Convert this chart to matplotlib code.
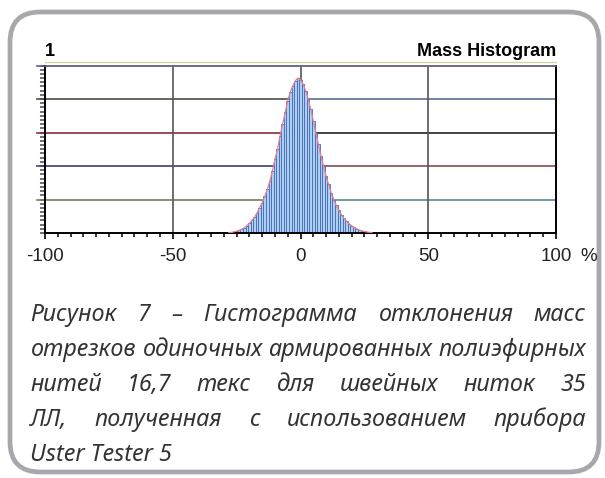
import numpy as np
import matplotlib
matplotlib.use("Agg")
import matplotlib.pyplot as plt
from matplotlib.patches import FancyBboxPatch
from matplotlib.font_manager import FontProperties
from matplotlib.ticker import MultipleLocator

# histogram of mass deviation, % (bin centres) and relative height
bins = [-28, -27, -26, -25, -24, -23, -22, -21, -20, -19, -18, -17, -16,
        -15, -14, -13, -12, -11, -10, -9, -8, -7, -6, -5, -4, -3, -2, -1,
        0, 1, 2, 3, 4, 5, 6, 7, 8, 9, 10, 11, 12, 13, 14, 15, 16, 17, 18,
        19, 20, 21, 22, 23, 24, 25, 26, 27, 28]
heights = [0.002, 0.004, 0.007, 0.011, 0.016, 0.023, 0.032, 0.044, 0.058,
           0.075, 0.095, 0.12, 0.15, 0.18, 0.22, 0.26, 0.31, 0.37, 0.44,
           0.50, 0.58, 0.65, 0.72, 0.79, 0.84, 0.88, 0.91, 0.925, 0.915,
           0.89, 0.85, 0.80, 0.74, 0.67, 0.60, 0.53, 0.46, 0.40, 0.34, 0.29,
           0.24, 0.20, 0.165, 0.135, 0.11, 0.088, 0.07, 0.055, 0.043, 0.033,
           0.025, 0.018, 0.013, 0.009, 0.006, 0.004, 0.002]

x_ticks = [-100, -50, 0, 50, 100]
x_labels = ["-100", "-50", "0", "50", "100"]
grid_y = [0.2, 0.4, 0.6, 0.8, 1.0]
# scanned grid lines have different tints left and right of the peak
grid_left_colors = ["#7c7a62", "#3e3e7c", "#8c2c3c", "#4e4e44", "#6a5a92"]
grid_right_colors = ["#5c8a8a", "#8c4a52", "#222222", "#5a7090", "#a06050"]

caption_lines = [
    "Рисунок 7 – Гистограмма отклонения масс",
    "отрезков одиночных армированных полиэфирных",
    "нитей 16,7 текс для швейных ниток 35",
    "ЛЛ, полученная с использованием прибора",
    "Uster Tester 5",
]

W, H = 605, 478
fig = plt.figure(figsize=(W / 100, H / 100), dpi=100)
fig.patch.set_facecolor("white")


def fx(px):
    return px / W


def fy(py):
    return 1 - py / H


# rounded frame around figure
frame = FancyBboxPatch((fx(10), fy(472)), fx(589), (472 - 12) / H,
                       boxstyle="round,pad=0,rounding_size=0.05",
                       transform=fig.transFigure, fill=False,
                       edgecolor="#a6a8ab", linewidth=3.4,
                       mutation_aspect=W / H)
fig.patches.append(frame)

# chart area
ax_l, ax_r, ax_t, ax_b = 45, 556, 65.5, 233
ax = fig.add_axes([fx(ax_l), fy(ax_b), fx(ax_r - ax_l), (ax_b - ax_t) / H])
ax.set_xlim(-100, 100)
ax.set_ylim(0, 1)

for yv, cl, cr in zip(grid_y, grid_left_colors, grid_right_colors):
    ax.plot([-100, 0], [yv, yv], color=cl, lw=1.2, zorder=1, clip_on=False)
    ax.plot([0, 100], [yv, yv], color=cr, lw=1.2, zorder=1, clip_on=False)
    # major tick sticking out on the left
    ax.plot([-103.2, -100], [yv, yv], color=cl, lw=1.2, clip_on=False)
ax.plot([-100, 100], [1.022, 1.022], color="#d9d3a8", lw=1.0, clip_on=False)

for xv in [-50, 0, 50]:
    ax.axvline(xv, color="#555555", lw=1.2, zorder=1)

ax.bar(bins, heights, width=1.0, color="#a9d3f0", edgecolor="#4a64b8",
       linewidth=0.6, zorder=2)
ax.plot(bins, heights, color="#e8808e", lw=0.9, zorder=3)

for s in ["left", "bottom", "right"]:
    ax.spines[s].set_linewidth(1.4)
    ax.spines[s].set_color("black")
ax.spines["top"].set_linewidth(1.1)
ax.spines["top"].set_color("#6a6a8a")

ax.set_xticks(x_ticks)
ax.set_xticklabels(x_labels)
ax.xaxis.set_minor_locator(MultipleLocator(5))
ax.tick_params(axis="x", which="major", direction="out", length=4, width=1.2,
               pad=7, labelsize=13.5, labelcolor="#222222")
ax.tick_params(axis="x", which="minor", direction="out", length=3, width=1.1)
for lab in ax.get_xticklabels():
    lab.set_fontfamily("Liberation Sans")

ax.set_yticks([])
ax.yaxis.set_minor_locator(MultipleLocator(0.025))
ax.tick_params(axis="y", which="minor", direction="out", length=3.6,
               width=1.1, color="#4a4a5a", labelleft=False)

ax.text(0.0, 1.035, "1", transform=ax.transAxes, ha="left", va="bottom",
        fontsize=13, fontweight="bold", family="Liberation Sans")
ax.text(1.0, 1.035, "Mass Histogram", transform=ax.transAxes, ha="right",
        va="bottom", fontsize=13, fontweight="bold", family="Liberation Sans")

fig.canvas.draw()
rend = fig.canvas.get_renderer()

# unit sits on the same line as the "100" tick label
bb = ax.get_xticklabels()[-1].get_window_extent(rend)
fig.text(fx(580), bb.y0 / H, "%", ha="left", va="bottom", fontsize=13.5,
         family="Liberation Sans", color="#222222")

# justified caption
fam = "Noto Sans"
fp = FontProperties(family=fam, style="italic", size=10)


def text_w(s, prop):
    t = fig.text(0, 0, s, fontproperties=prop)
    w = t.get_window_extent(rend).width
    t.remove()
    return w


txt_l, txt_r = 30, 586
size = 10 * (txt_r - txt_l) / text_w(caption_lines[1], fp)
fp = FontProperties(family=fam, style="italic", size=size)
baselines = [321, 356, 391, 426, 461]
for i, (line, base) in enumerate(zip(caption_lines, baselines)):
    words = line.split(" ")
    if i == len(caption_lines) - 1:
        fig.text(fx(txt_l), fy(base), line, fontproperties=fp,
                 va="baseline", color="#333333")
        continue
    widths = [text_w(w, fp) for w in words]
    gap = (txt_r - txt_l - sum(widths)) / (len(words) - 1)
    x = txt_l
    for w, wd in zip(words, widths):
        fig.text(fx(x), fy(base), w, fontproperties=fp, va="baseline",
                 color="#333333")
        x += wd + gap

fig.savefig("out.png", dpi=100)
